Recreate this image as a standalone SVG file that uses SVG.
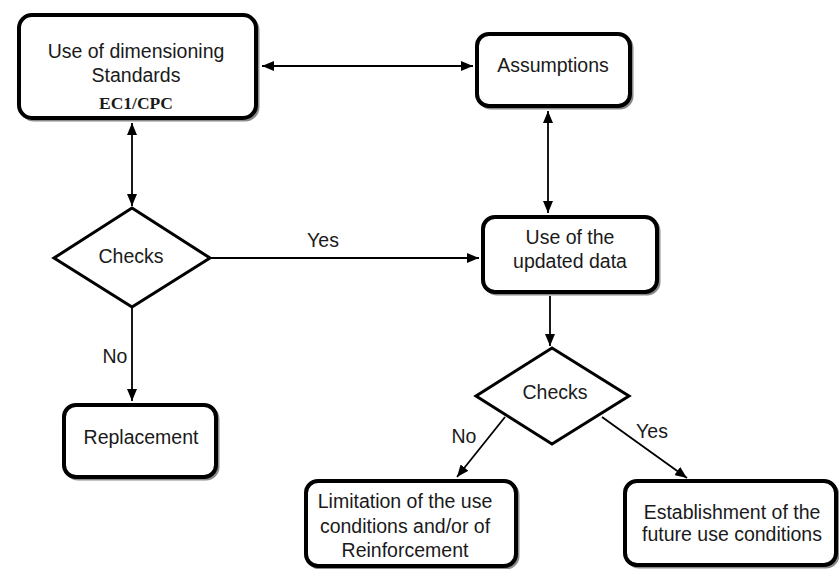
<svg xmlns="http://www.w3.org/2000/svg" width="839" height="569" viewBox="0 0 839 569">
<style>
  .box { fill: #ffffff; stroke: #000000; stroke-width: 4; }
  .shadow { fill: none; stroke: #8a8a8a; stroke-width: 3; }
  .dia { fill: #ffffff; stroke: #000000; stroke-width: 3; stroke-linejoin: miter; }
  .t { font-family: "Liberation Sans", Arial, sans-serif; font-size: 19.5px; fill: #1a1a1a; text-anchor: middle; }
  .ts { font-family: "Liberation Serif", "Times New Roman", serif; font-size: 17.5px; font-weight: bold; fill: #1a1a1a; text-anchor: middle; }
  .c { fill: none; stroke: #000000; stroke-width: 1.8; }
</style>
<defs>
  <marker id="ah" markerUnits="userSpaceOnUse" markerWidth="13" markerHeight="10" refX="12" refY="5" orient="auto-start-reverse">
    <path d="M0,0 L12,5 L0,10 Z" fill="#000000"/>
  </marker>
</defs>
<rect width="839" height="569" fill="#ffffff"/>

<g id="connectors">
  <line class="c" x1="262" y1="66" x2="473" y2="66" marker-start="url(#ah)" marker-end="url(#ah)"/>
  <line class="c" x1="132" y1="123" x2="132" y2="206" marker-start="url(#ah)" marker-end="url(#ah)"/>
  <line class="c" x1="548" y1="111" x2="548" y2="213" marker-start="url(#ah)" marker-end="url(#ah)"/>
  <line class="c" x1="211" y1="258" x2="479" y2="258" marker-end="url(#ah)"/>
  <line class="c" x1="132" y1="308" x2="132" y2="401" marker-end="url(#ah)"/>
  <line class="c" x1="550" y1="296" x2="550" y2="346" marker-end="url(#ah)"/>
  <line class="c" x1="505" y1="417" x2="457" y2="477" marker-end="url(#ah)"/>
  <line class="c" x1="602" y1="417" x2="687" y2="478" marker-end="url(#ah)"/>
  <text class="t" x="323" y="247">Yes</text>
  <text class="t" x="115" y="363">No</text>
  <text class="t" x="464" y="443">No</text>
  <text class="t" x="652" y="438">Yes</text>
</g>

<g id="node-dimensioning">
  <rect class="shadow" x="21" y="17" width="237" height="103" rx="13"/>
  <rect class="box" x="19" y="15" width="237" height="103" rx="13"/>
  <text class="t" x="136" y="58">Use of dimensioning</text>
  <text class="t" x="136" y="82">Standards</text>
  <text class="ts" x="136" y="109">EC1/CPC</text>
</g>

<g id="node-assumptions">
  <rect class="shadow" x="479" y="36" width="153" height="72" rx="12"/>
  <rect class="box" x="477" y="34" width="153" height="72" rx="12"/>
  <text class="t" x="553" y="72">Assumptions</text>
</g>

<g id="node-updated">
  <rect class="shadow" x="485" y="219" width="174" height="75" rx="12"/>
  <rect class="box" x="483" y="217" width="174" height="75" rx="12"/>
  <text class="t" x="570" y="244">Use of the</text>
  <text class="t" x="570" y="268">updated data</text>
</g>

<g id="node-checks1">
  <polygon class="dia" points="132,208 210,258 132,307 54,258"/>
  <text class="t" x="131" y="263">Checks</text>
</g>

<g id="node-replacement">
  <rect class="shadow" x="66" y="407" width="152" height="72" rx="12"/>
  <rect class="box" x="64" y="405" width="152" height="72" rx="12"/>
  <text class="t" x="141" y="444">Replacement</text>
</g>

<g id="node-checks2">
  <polygon class="dia" points="552,348 629,396 552,444 476,396"/>
  <text class="t" x="555" y="399">Checks</text>
</g>

<g id="node-limitation">
  <rect class="shadow" x="308" y="483" width="210" height="85" rx="12"/>
  <rect class="box" x="306" y="481" width="210" height="85" rx="12"/>
  <text class="t" x="405" y="508">Limitation of the use</text>
  <text class="t" x="405" y="533">conditions and/or of</text>
  <text class="t" x="405" y="557">Reinforcement</text>
</g>

<g id="node-establishment">
  <rect class="shadow" x="627" y="483" width="211" height="84" rx="12"/>
  <rect class="box" x="625" y="481" width="211" height="84" rx="12"/>
  <text class="t" x="732" y="519">Establishment of the</text>
  <text class="t" x="732" y="541">future use conditions</text>
</g>
</svg>
